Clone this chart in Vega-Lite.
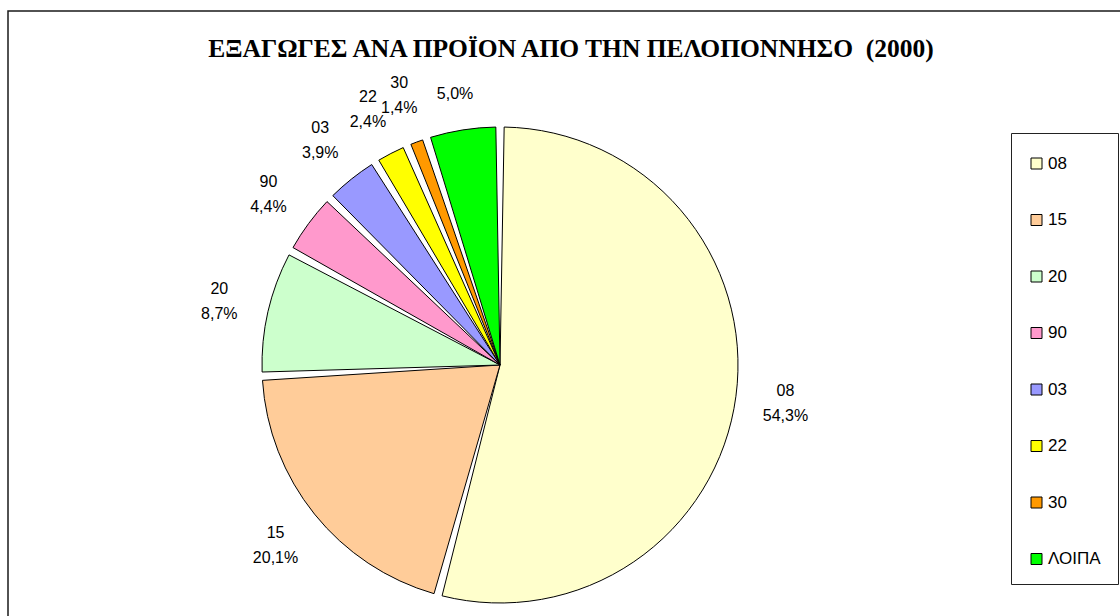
{
  "$schema": "https://vega.github.io/schema/vega-lite/v6.json",
  "width": 1200,
  "height": 700,
  "autosize": {"type": "none"},
  "padding": {"left": 8, "top": 11, "right": 0, "bottom": 0},
  "background": "white",
  "config": {
    "view": {"stroke": "#1a1a1a", "strokeWidth": 1.5},
    "locale": {"number": {"decimal": ",", "thousands": ".", "grouping": [3], "currency": ["", " €"]}},
    "font": "Liberation Sans"
  },
  "title": {
    "text": "ΕΞΑΓΩΓΕΣ ΑΝΑ ΠΡΟΪΟΝ ΑΠΟ ΤΗΝ ΠΕΛΟΠΟΝΝΗΣΟ \u00a0(2000)",
    "font": "Liberation Serif",
    "fontSize": 25.5,
    "fontWeight": "bold",
    "color": "black",
    "anchor": "middle",
    "dx": -37,
    "dy": 75,
    "baseline": "alphabetic"
  },
  "data": {
    "values": [
      {"rank": 1, "code": "08", "share": 0.543},
      {"rank": 2, "code": "15", "share": 0.201},
      {"rank": 3, "code": "20", "share": 0.087},
      {"rank": 4, "code": "90", "share": 0.044},
      {"rank": 5, "code": "03", "share": 0.039},
      {"rank": 6, "code": "22", "share": 0.024},
      {"rank": 7, "code": "30", "share": 0.014},
      {"rank": 8, "code": "ΛΟΙΠΑ", "share": 0.050}
    ]
  },
  "encoding": {
    "theta": {"field": "share", "type": "quantitative", "stack": true},
    "order": {"field": "rank", "type": "quantitative"},
    "x": {"datum": 492, "type": "quantitative", "scale": {"domain": [0, 1200], "nice": false, "zero": false}, "axis": null},
    "y": {"datum": 354, "type": "quantitative", "scale": {"domain": [0, 700], "nice": false, "zero": false, "reverse": true}, "axis": null}
  },
  "layer": [
    {
      "mark": {"type": "arc", "outerRadius": 238, "padAngle": 0.035, "stroke": "black", "strokeWidth": 1},
      "encoding": {
        "color": {
          "field": "code",
          "type": "nominal",
          "scale": {
            "domain": ["08", "15", "20", "90", "03", "22", "30", "ΛΟΙΠΑ"],
            "range": ["#FFFFCC", "#FFCC99", "#CCFFCC", "#FF99CC", "#9999FF", "#FFFF00", "#FF9900", "#00FF00"]
          },
          "legend": {
            "orient": "none",
            "legendX": 1003,
            "legendY": 122,
            "title": " ",
            "titleFontSize": 1,
            "titlePadding": 4,
            "symbolType": "square",
            "symbolSize": 121,
            "symbolStrokeColor": "black",
            "symbolStrokeWidth": 1,
            "symbolOpacity": 1,
            "labelFontSize": 17,
            "labelFont": "Liberation Sans",
            "labelColor": "black",
            "labelOffset": 3,
            "rowPadding": 38.5,
            "padding": 17,
            "strokeColor": "#222222",
            "fillColor": "white"
          }
        }
      }
    },
    {
      "mark": {"type": "text", "radius": 288, "dy": -12, "fontSize": 16, "font": "Liberation Sans"},
      "encoding": {
        "text": {"condition": {"test": "datum.code === 'ΛΟΙΠΑ'", "value": ""}, "field": "code", "type": "nominal"},
        "color": {"value": "black"}
      }
    },
    {
      "mark": {"type": "text", "radius": 288, "dy": 13, "fontSize": 16, "font": "Liberation Sans"},
      "encoding": {
        "text": {"field": "share", "type": "quantitative", "format": ".1%"},
        "color": {"value": "black"}
      }
    }
  ]
}
